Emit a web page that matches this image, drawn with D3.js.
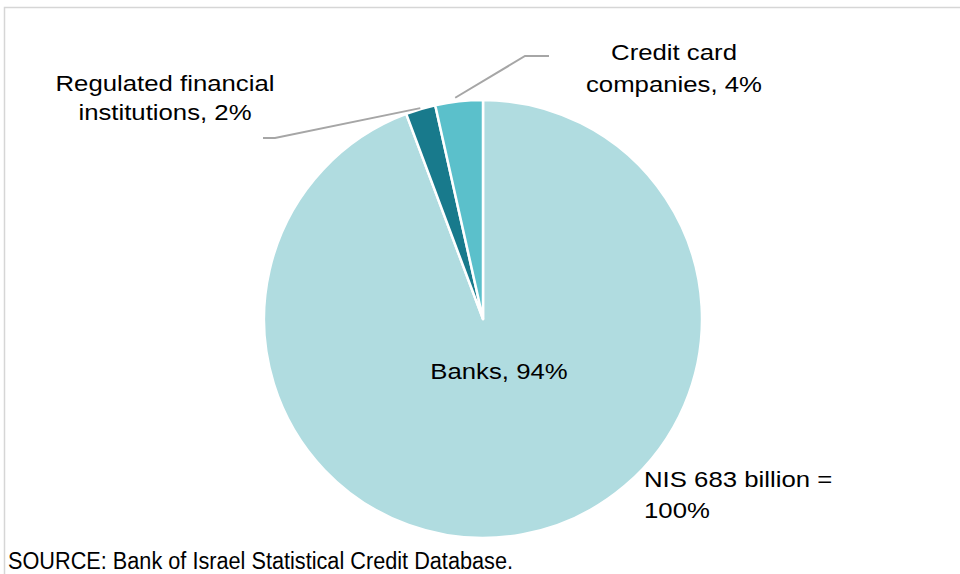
<!DOCTYPE html>
<html>
<head>
<meta charset="utf-8">
<script src="https://cdn.jsdelivr.net/npm/d3@7"></script>
<style>
  body { margin: 0; background: #fff; }
  text { font-family: "Liberation Sans", Arial, sans-serif; fill: #000; }
</style>
</head>
<body>
<div id="chart"></div>
<script>
// data (shares of total credit, %)
var categories = ["Banks", "Regulated financial institutions", "Credit card companies"];
var shares = [94.3, 2.2, 3.5];
var shareLabels = ["94%", "2%", "4%"];
var colors = ["#b0dce0", "#187a8c", "#5bc0cb"];
var totalNote = ["NIS 683 billion =", "100%"];
var source = "SOURCE: Bank of Israel Statistical Credit Database.";

var width = 960, height = 574;
var cx = 483, cy = 319, radius = 219;

var svg = d3.select("#chart")
  .append("svg")
    .attr("width", width)
    .attr("height", height);

// frame
svg.append("rect")
  .attr("x", 4.5).attr("y", 7.5)
  .attr("width", width + 20).attr("height", height + 20)
  .attr("fill", "none")
  .attr("stroke", "#d6d6d6")
  .attr("stroke-width", 1.5);

var data = categories.map(function(c, i) {
  return {name: c, value: shares[i], label: shareLabels[i], color: colors[i]};
});

var pie = d3.pie()
  .sort(null)
  .value(function(d) { return d.value; });

var arc = d3.arc().innerRadius(0).outerRadius(radius);

var g = svg.append("g")
  .attr("transform", "translate(" + cx + "," + cy + ")");

var arcs = pie(data);

g.selectAll("path.slice")
  .data(arcs)
  .enter()
  .append("path")
    .attr("class", "slice")
    .attr("d", arc)
    .attr("fill", function(d) { return d.data.color; })
    .attr("stroke", "#fff")
    .attr("stroke-width", 2.5)
    .attr("stroke-linejoin", "round");

// helper: point on a ray at angle a (d3 pie convention)
function ptAt(a, r) {
  return [cx + r * Math.sin(a), cy - r * Math.cos(a)];
}

// label text with the wide look of the original
function label(x, y, lines, anchor, sx, size, lh) {
  var t = svg.append("g")
    .attr("transform", "translate(" + x + "," + y + ") scale(" + sx + ",1)");
  lines.forEach(function(l, i) {
    t.append("text")
      .attr("x", 0).attr("y", i * lh)
      .attr("text-anchor", anchor)
      .style("font-size", size + "px")
      .text(l);
  });
}

// Banks label inside
label(499, 379, [categories[0] + ", " + arcs[0].data.label], "middle", 1.12, 23, 31);

// Regulated financial institutions - outside, leader line to the left
var a1 = (arcs[1].startAngle + arcs[1].endAngle) / 2;
var p1 = ptAt(a1, radius + 1);
svg.append("polyline")
  .attr("points", [p1, [275, 138], [263, 138]].map(function(p) { return p.join(","); }).join(" "))
  .attr("fill", "none")
  .attr("stroke", "#a6a6a6")
  .attr("stroke-width", 2);
label(165, 91, ["Regulated financial", "institutions, " + arcs[1].data.label], "middle", 1.12, 23, 29);

// Credit card companies - outside, leader line to the right
var a2 = (arcs[2].startAngle + arcs[2].endAngle) / 2;
var p2 = ptAt(a2 - 0.015, radius + 4);
svg.append("polyline")
  .attr("points", [p2, [525, 56], [549, 56]].map(function(p) { return p.join(","); }).join(" "))
  .attr("fill", "none")
  .attr("stroke", "#a6a6a6")
  .attr("stroke-width", 2);
label(674, 60, ["Credit card", "companies, " + arcs[2].data.label], "middle", 1.12, 23, 32);

// total note
label(644, 487, totalNote, "start", 1.12, 23, 31);

// source
svg.append("text")
  .attr("x", 8).attr("y", 569)
  .attr("textLength", 505)
  .attr("lengthAdjust", "spacingAndGlyphs")
  .style("font-size", "23px")
  .text(source);
</script>
</body>
</html>
